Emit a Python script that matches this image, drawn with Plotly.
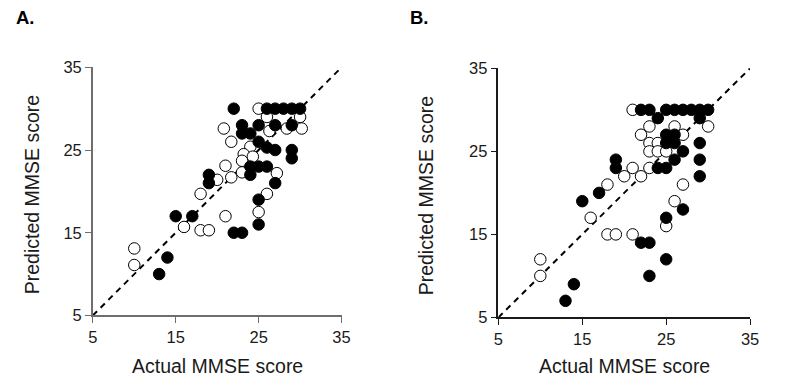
import plotly.graph_objects as go

W, H = 775, 372
# empirical placement of the figure inside the photographed page
AX, SX = 11.1, 0.983
AY, SY = 17.5, 0.955

# ---------------- data ----------------
ticks = [5, 15, 25, 35]
tick_labels = ["5", "15", "25", "35"]
identity = [5, 35]

a_filled_x = [13, 14, 15, 17, 19, 19, 22, 23, 25, 25, 27, 22, 26, 27, 28, 29, 30,
              23, 23, 24, 25, 27, 29, 25, 26, 27, 29, 29, 24, 25, 26, 24]
a_filled_y = [10, 12, 17, 17, 21, 22, 15, 15, 16, 19, 21, 30, 30, 30, 30, 30, 30,
              28, 27, 27, 28, 28, 28, 26, 25.3, 25, 25, 24, 23, 23, 23, 22]
a_open_x = [10, 10, 16, 18, 19, 18, 21, 25, 26, 20.8, 21.7, 25, 26, 30, 30.2, 28.4,
            26.3, 24, 23.2, 24.3, 23, 21, 23, 21.7, 27.2, 20]
a_open_y = [13.1, 11.1, 15.7, 15.3, 15.3, 19.7, 17, 17.5, 19.7, 27.6, 26, 30, 29, 29,
            27.6, 27.6, 27.3, 25.4, 24.5, 24.2, 23.7, 23.1, 22.3, 21.7, 22.2, 21.4]

b_filled_x = [13, 14, 15, 17, 19, 19, 22, 23, 23, 25, 25, 27, 29, 29, 29, 29,
              22, 23, 25, 26, 27, 28, 29, 30, 24, 25, 26, 25, 26, 27, 26, 24, 25]
b_filled_y = [7, 9, 19, 20, 24, 23, 14, 14, 10, 12, 17, 18, 22, 24, 26, 29,
              30, 30, 30, 30, 30, 30, 30, 30, 29, 27, 27, 26, 26, 25, 24, 23, 23]
b_open_x = [10, 10, 16, 18, 18, 19, 21, 25, 26, 27, 21, 30, 23, 26, 27, 22, 23, 24,
            23, 24, 25, 20, 21, 22, 23]
b_open_y = [12, 10, 17, 21, 15, 15, 15, 16, 19, 21, 30, 28, 28, 28, 27, 27, 26, 26,
            25, 25, 25, 22, 23, 22, 23]

# ---------------- layout helpers (reference pixel -> paper) ----------------
def px_x(p):
    return ((p - AX) / SX) / W

def px_y(p):
    return 1 - ((p - AY) / SY) / H

panels = [
    dict(x0=91, x1=340, y0=68, y1=317, axcol="#6e6e6e",
         fx=a_filled_x, fy=a_filled_y, ox=a_open_x, oy=a_open_y),
    dict(x0=497, x1=749, y0=69, y1=319, axcol="#1a1a1a",
         fx=b_filled_x, fy=b_filled_y, ox=b_open_x, oy=b_open_y),
]

fig = go.Figure()
for i, p in enumerate(panels):
    xa = "x" if i == 0 else "x2"
    ya = "y" if i == 0 else "y2"
    fig.add_trace(go.Scatter(x=identity, y=identity, mode="lines",
                             line=dict(color="black", width=2, dash="6px,5px"),
                             xaxis=xa, yaxis=ya, hoverinfo="skip", showlegend=False))
    fig.add_trace(go.Scatter(x=p["ox"], y=p["oy"], mode="markers",
                             marker=dict(size=11.5, color="white",
                                         line=dict(color="black", width=1)),
                             xaxis=xa, yaxis=ya, showlegend=False, cliponaxis=False))
    fig.add_trace(go.Scatter(x=p["fx"], y=p["fy"], mode="markers",
                             marker=dict(size=11.5, color="black",
                                         line=dict(color="black", width=1)),
                             xaxis=xa, yaxis=ya, showlegend=False, cliponaxis=False))

axis_common = dict(range=[5, 35], tickvals=ticks, ticktext=tick_labels,
                   showgrid=False, zeroline=False, showline=True, ticks="outside",
                   ticklen=6, tickfont=dict(family="Liberation Sans, Arial", size=16.5,
                                             color="#1a1a1a"))
layout = dict(width=W, height=H, margin=dict(l=0, r=0, t=0, b=0),
              paper_bgcolor="white", plot_bgcolor="white", showlegend=False)
for i, p in enumerate(panels):
    sx = "" if i == 0 else "2"
    layout["xaxis" + sx] = dict(axis_common, domain=[px_x(p["x0"]), px_x(p["x1"])],
                                anchor="y" + sx, linecolor=p["axcol"],
                                tickcolor=p["axcol"], linewidth=1.5)
    layout["yaxis" + sx] = dict(axis_common, domain=[px_y(p["y1"]), px_y(p["y0"])],
                                anchor="x" + sx, linecolor=p["axcol"],
                                tickcolor=p["axcol"], linewidth=1.5)
fig.update_layout(**layout)

ann = []
font_t = dict(family="Liberation Sans, Arial", size=19.5, color="#1a1a1a")
for p, lab, lx, ycx in [(panels[0], "A.", 24, 30), (panels[1], "B.", 418, 424)]:
    ann.append(dict(text="<b>" + lab + "</b>", x=px_x(lx), y=px_y(18), xref="paper",
                    yref="paper", showarrow=False, xanchor="center", yanchor="middle",
                    font=dict(family="Liberation Sans, Arial", size=18.5, color="black")))
    ann.append(dict(text="Actual MMSE score", x=px_x((p["x0"] + p["x1"]) / 2),
                    y=px_y(368), xref="paper", yref="paper", showarrow=False,
                    xanchor="center", yanchor="middle", font=font_t))
    ann.append(dict(text="Predicted MMSE score", x=px_x(ycx),
                    y=px_y((p["y0"] + p["y1"]) / 2 + 3), xref="paper", yref="paper",
                    showarrow=False, textangle=-90, xanchor="center",
                    yanchor="middle", font=font_t))
fig.update_layout(annotations=ann)

fig.write_html("out.html")
